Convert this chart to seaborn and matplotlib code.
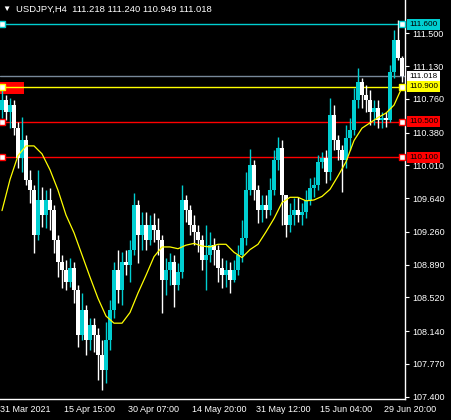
import numpy as np
import matplotlib
matplotlib.use("Agg")
import matplotlib.pyplot as plt
import matplotlib.transforms as mtransforms
from matplotlib.patches import Rectangle
import seaborn as sns

# USDJPY H4 candles (each candle here stands for a few H4 bars)
opens = [110.64, 110.75, 110.61, 110.69, 110.43, 110.09, 110.30, 109.85, 109.73, 109.23,
         109.62, 109.45, 109.62, 109.51, 109.17, 108.92, 108.83, 108.69, 108.85, 108.60,
         108.10, 108.38, 108.04, 108.21, 108.10, 107.87, 107.70, 108.04, 108.38, 108.83,
         108.60, 108.92, 108.89, 109.06, 109.56, 109.23, 109.34, 109.17, 109.34, 109.28,
         109.17, 108.72, 108.83, 108.92, 108.66, 108.81, 109.62, 109.51, 109.34, 109.26,
         109.17, 108.94, 109.00, 109.11, 109.06, 108.85, 108.77, 108.83, 108.72, 108.83,
         109.00, 109.19, 109.73, 110.02, 109.73, 109.51, 109.56, 109.51, 109.73, 110.07,
         110.21, 109.68, 109.34, 109.45, 109.51, 109.45, 109.48, 109.62, 109.76, 109.79,
         110.05, 110.09, 109.94, 110.58, 110.30, 110.18, 110.07, 110.32, 110.41, 110.75,
         110.95, 110.80, 110.75, 110.61, 110.66, 110.52, 110.55, 110.52, 111.06, 111.42,
         111.218]
highs = [110.86, 110.80, 110.77, 110.75, 110.50, 110.56, 110.35, 109.96, 109.79, 109.96,
         109.77, 109.73, 109.76, 109.56, 109.23, 109.00, 108.94, 108.97, 108.92, 108.66,
         108.57, 108.44, 108.29, 108.29, 108.18, 108.04, 108.24, 108.49, 108.92, 109.06,
         109.03, 109.06, 109.17, 109.70, 109.62, 109.48, 109.48, 109.45, 109.47, 109.42,
         109.23, 108.97, 109.02, 109.00, 108.91, 109.79, 109.68, 109.56, 109.45, 109.34,
         109.23, 109.34, 109.26, 109.19, 109.11, 108.97, 108.94, 108.92, 108.94, 109.11,
         109.39, 109.94, 110.20, 110.07, 109.79, 109.68, 109.68, 109.87, 110.18, 110.33,
         110.30, 109.68, 109.59, 109.64, 109.65, 109.59, 109.73, 109.87, 109.88, 110.13,
         110.16, 110.18, 110.77, 110.69, 110.35, 110.24, 110.47, 110.55, 110.88, 111.11,
         111.00, 110.92, 110.86, 110.75, 110.75, 110.61, 110.61, 111.14, 111.54, 111.65,
         111.240]
lows = [110.55, 110.52, 110.43, 110.35, 109.98, 109.94, 109.79, 109.59, 109.02, 109.17,
        109.31, 109.30, 109.28, 109.02, 108.75, 108.63, 108.60, 108.64, 108.46, 107.96,
        108.04, 107.87, 107.93, 107.91, 107.59, 107.48, 107.56, 107.93, 108.29, 108.46,
        108.44, 108.77, 108.70, 109.00, 108.91, 109.06, 109.06, 109.11, 109.15, 109.00,
        108.35, 108.55, 108.66, 108.41, 108.60, 108.74, 109.37, 109.23, 109.11, 109.03,
        108.83, 108.60, 108.92, 108.89, 108.70, 108.63, 108.64, 108.57, 108.70, 108.77,
        108.92, 109.11, 109.68, 109.62, 109.36, 109.37, 109.42, 109.45, 109.68, 109.96,
        109.34, 109.20, 109.26, 109.34, 109.37, 109.34, 109.42, 109.56, 109.65, 109.73,
        109.98, 109.81, 109.85, 110.18, 110.07, 109.71, 109.98, 110.18, 110.35, 110.66,
        110.66, 110.61, 110.47, 110.47, 110.43, 110.43, 110.44, 110.50, 111.00, 111.20,
        110.949]
closes = [110.75, 110.61, 110.69, 110.43, 110.09, 110.30, 109.85, 109.73, 109.23, 109.62,
          109.45, 109.62, 109.51, 109.17, 108.92, 108.83, 108.69, 108.85, 108.60, 108.10,
          108.38, 108.04, 108.21, 108.10, 107.87, 107.70, 108.04, 108.38, 108.83, 108.60,
          108.92, 108.89, 109.06, 109.56, 109.23, 109.34, 109.17, 109.34, 109.28, 109.17,
          108.72, 108.83, 108.92, 108.66, 108.81, 109.62, 109.51, 109.34, 109.26, 109.17,
          108.94, 109.00, 109.11, 109.06, 108.85, 108.77, 108.83, 108.72, 108.83, 109.00,
          109.19, 109.73, 110.02, 109.73, 109.51, 109.56, 109.51, 109.73, 110.07, 110.21,
          109.68, 109.34, 109.45, 109.51, 109.45, 109.48, 109.62, 109.76, 109.79, 110.05,
          110.09, 109.94, 110.58, 110.30, 110.18, 110.07, 110.32, 110.41, 110.75, 110.95,
          110.80, 110.75, 110.61, 110.66, 110.52, 110.55, 110.52, 111.06, 111.42, 111.22,
          111.018]

# moving average, read every second candle
ma_idx = list(range(0, 101, 2))
ma_vals = [109.50, 109.85, 110.12, 110.23, 110.23, 110.14, 109.96, 109.73, 109.45, 109.25,
           109.00, 108.75, 108.51, 108.31, 108.23, 108.23, 108.35, 108.57, 108.77, 108.98,
           109.09, 109.09, 109.07, 109.11, 109.13, 109.10, 109.09, 109.12, 109.12, 109.03,
           108.97, 109.06, 109.12, 109.26, 109.41, 109.59, 109.65, 109.65, 109.61, 109.62,
           109.66, 109.74, 109.89, 110.05, 110.29, 110.43, 110.49, 110.55, 110.60, 110.69,
           110.89]

# horizontal levels
levels = [111.600, 111.018, 110.900, 110.500, 110.100]
level_colors = ['#00CED1', '#778899', '#FFFF00', '#FF0000', '#FF0000']
level_marks = [True, False, True, True, True]

ytick_vals = [111.500, 111.130, 110.760, 110.380, 110.010, 109.640,
              109.260, 108.890, 108.520, 108.140, 107.770, 107.400]
xtick_pos = [-0.5, 15.5, 31.5, 47.5, 63.5, 79.5, 95.5]
xtick_labels = ['31 Mar 2021', '15 Apr 15:00', '30 Apr 07:00', '14 May 20:00',
                '31 May 12:00', '15 Jun 04:00', '29 Jun 20:00']

header = 'USDJPY,H4  111.218 111.240 110.949 111.018'

sns.set_style('dark', {'axes.facecolor': 'black', 'figure.facecolor': 'black'})
plt.rcParams['font.family'] = ['Liberation Sans', 'DejaVu Sans']

fig = plt.figure(figsize=(4.51, 4.20), dpi=100)
fig.patch.set_facecolor('black')
ax = fig.add_axes([0, 21 / 420, 405 / 451, 399 / 420])
ax.set_facecolor('black')

o = np.array(opens)
h = np.array(highs)
l = np.array(lows)
c = np.array(closes)
idx = np.arange(len(c))
cols = np.where(c >= o, '#00CED1', 'white')

# red box top-left
ax.add_patch(Rectangle((-0.5, 110.817), 6, 0.133, color='#FF0000', lw=0, zorder=1))

# level lines
for p, col in zip(levels, level_colors):
    ax.axhline(p, color=col, lw=1, zorder=2)

# candles
ax.vlines(idx, l, h, colors=cols, lw=1.0, zorder=3)
ax.bar(idx, np.maximum(np.abs(c - o), 0.012), bottom=np.minimum(o, c),
       width=0.85, color=cols, lw=0, zorder=3)

# moving average
sns.lineplot(x=ma_idx, y=ma_vals, ax=ax, color='#FFFF00', lw=0.9, zorder=4)

# end squares on levels
for p, col, m in zip(levels, level_colors, level_marks):
    if m:
        ax.plot([0, 100], [p, p], ls='none', marker='s', ms=4, mfc='white',
                mec=col, mew=1, zorder=5, clip_on=False)

ax.set_xlim(-0.5, 100.75)
ax.set_ylim(107.3745, 111.876)

# axes styling
for s in ['left', 'top']:
    ax.spines[s].set_visible(False)
for s in ['right', 'bottom']:
    ax.spines[s].set_visible(True)
    ax.spines[s].set_color('white')
    ax.spines[s].set_linewidth(1)

ax.yaxis.tick_right()
ax.set_yticks(ytick_vals)
ax.set_yticklabels(['%.3f' % v for v in ytick_vals])
ax.set_xticks(xtick_pos)
ax.set_xticklabels(xtick_labels, ha='left')
ax.tick_params(axis='both', colors='white', labelcolor='white', labelsize=6.5,
               length=3, width=0.8, pad=1.5)
ax.tick_params(axis='y', pad=2.5)
ax.grid(False)

# price boxes on the right scale
blend = mtransforms.blended_transform_factory(ax.transAxes, ax.transData)
for p, col in zip(levels, level_colors):
    bc = 'white' if col == '#778899' else col
    ax.add_patch(Rectangle((1.004, p - 0.062), 0.083, 0.124, transform=blend,
                           color=bc, lw=0, clip_on=False, zorder=6))
    ax.text(1.012, p, '%.3f' % p, transform=blend, color='black', fontsize=5.9,
            va='center', ha='left', zorder=7, clip_on=False)

# header
fig.text(2 / 451, 1 - 9 / 420, '▼', color='white', fontsize=6, va='center', ha='left')
fig.text(16 / 451, 1 - 9 / 420, header, color='white', fontsize=6.8, va='center', ha='left')

fig.savefig('out.png', dpi=100, facecolor='black')
